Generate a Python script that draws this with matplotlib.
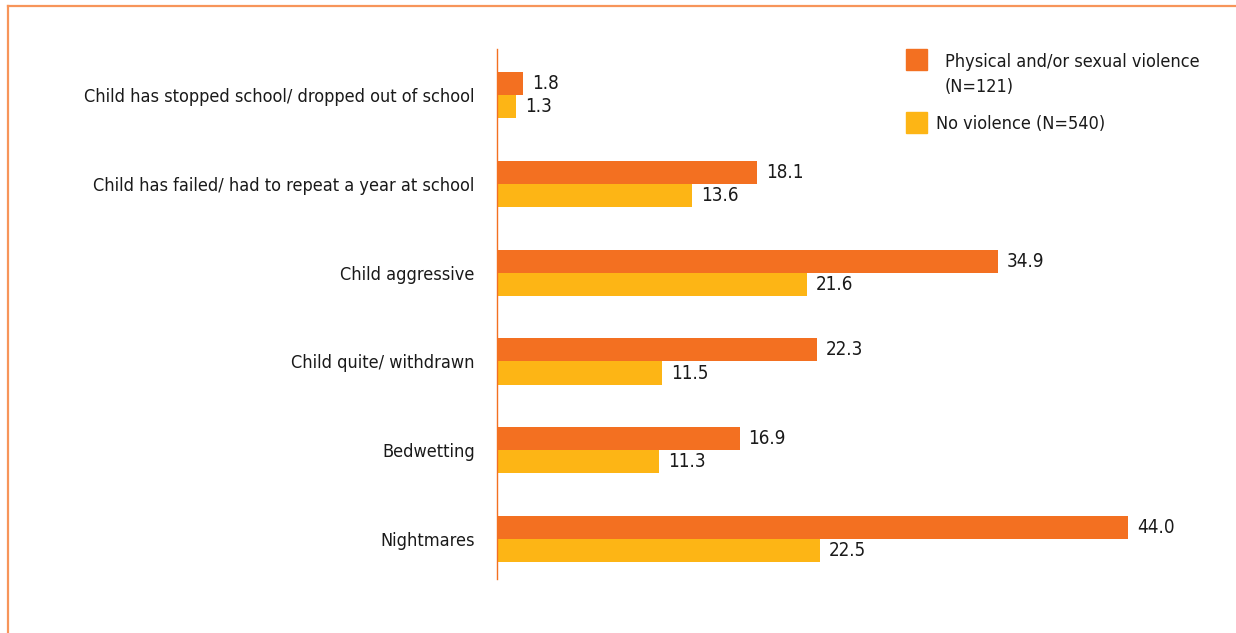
import matplotlib
matplotlib.use('Agg')
import numpy as np
from matplotlib import pyplot as plt
from matplotlib.lines import Line2D
from matplotlib.patches import Rectangle

# Data
categories = ['Nightmares', 'Bedwetting', 'Child quite/ withdrawn', 'Child aggressive',
              'Child has failed/ had to repeat a year at school',
              'Child has stopped school/ dropped out of school']
violence = [44.0, 16.9, 22.3, 34.9, 18.1, 1.8]
no_violence = [22.5, 11.3, 11.5, 21.6, 13.6, 1.3]
series_names = ['Physical and/or sexual violence\n(N=121)', 'No violence (N=540)']

ORANGE = '#F37021'
YELLOW = '#FDB515'
BORDER = '#F7955A'
TEXT = '#1a1a1a'

plt.rcParams['font.family'] = ['DejaVu Sans']
plt.rcParams['font.stretch'] = 'condensed'

W, H = 1236, 633
fig = plt.figure(figsize=(W / 100, H / 100), dpi=100)
ax = fig.add_axes([497 / W, 1 - 579 / H, 0.5805, 530 / H])

y = np.arange(len(categories))
h = 0.26
b1 = ax.barh(y + h / 2, violence, height=h, color=ORANGE)
b2 = ax.barh(y - h / 2, no_violence, height=h, color=YELLOW)
for bars, vals in ((b1, violence), (b2, no_violence)):
    for bar, v in zip(bars, vals):
        ax.annotate(f'{v:.1f}', (v, bar.get_y() + bar.get_height() / 2), xytext=(6.5, 0),
                    textcoords='offset points', va='center', ha='left', fontsize=13.5, color=TEXT)

ax.set_xlim(0, 50)
ax.set_ylim(-0.45, 5.52)
ax.set_yticks(y)
ax.set_yticklabels(categories, fontsize=13, color=TEXT)
ax.tick_params(axis='y', length=0, pad=16)
ax.set_xticks([])
for s in ['top', 'right', 'bottom']:
    ax.spines[s].set_visible(False)
ax.spines['left'].set_color(ORANGE)
ax.spines['left'].set_linewidth(1.0)

# legend, laid out like the original (swatch aligned with the first text line)
for (x0, y0), col in zip([(906, 49), (906, 112)], [ORANGE, YELLOW]):
    fig.add_artist(Rectangle((x0 / W, 1 - (y0 + 21) / H), 21 / W, 21 / H, color=col,
                             transform=fig.transFigure))
fig.text(945 / W, 1 - 62 / H, series_names[0].split('\n')[0], fontsize=13, color=TEXT, va='center')
fig.text(945 / W, 1 - 87 / H, series_names[0].split('\n')[1], fontsize=13, color=TEXT, va='center')
fig.text(936 / W, 1 - 124 / H, series_names[1], fontsize=13, color=TEXT, va='center')

# frame lines at top and left of the figure
fig.add_artist(Line2D([8 / W, 1], [1 - 6 / H, 1 - 6 / H], color=BORDER, lw=1.6,
                      transform=fig.transFigure))
fig.add_artist(Line2D([8 / W, 8 / W], [0, 1 - 6 / H], color=BORDER, lw=1.6,
                      transform=fig.transFigure))

fig.savefig('out.png', dpi=100)
